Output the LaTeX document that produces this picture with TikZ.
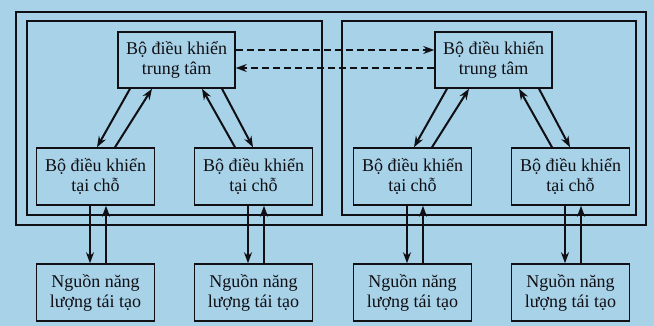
\documentclass[tikz,border=0pt]{standalone}
\usepackage{fontspec}
\setmainfont{Liberation Serif}
\usetikzlibrary{arrows.meta}
\definecolor{bgblue}{RGB}{168,210,232}
\definecolor{ink}{RGB}{15,15,20}
\tikzset{
  box/.style={draw=ink, line width=1.5pt, fill=bgblue, align=center, inner sep=0pt,
    font=\fontsize{18}{20}\selectfont, text=ink},
  cbox/.style={box, minimum width=117pt, minimum height=56pt},
  lbox/.style={box, minimum width=118pt, minimum height=57pt},
  frame/.style={draw=ink, line width=1.1pt},
  arr/.style={draw=ink, line width=2pt, -{Stealth[length=11pt,width=8pt]}},
  darr/.style={arr, line width=1.4pt, dash pattern=on 7pt off 4pt}
}
\begin{document}
\begin{tikzpicture}[x=1pt,y=-1pt]
\fill[bgblue] (0,0) rectangle (654,326);
\useasboundingbox (0,0) rectangle (654,326);
% frames
\draw[frame] (16,12) rectangle (646,225);
\draw[frame] (27,21) rectangle (322,215);
\draw[frame] (342,21) rectangle (636,215);
% left group
\node[cbox] (c1) at (176.5,60) {Bộ điều khiển\\trung tâm};
\node[lbox] (l1) at (95.5,176.5) {Bộ điều khiển\\tại chỗ};
\node[lbox] (l2) at (253.5,176.5) {Bộ điều khiển\\tại chỗ};
% right group
\node[cbox] (c2) at (493.5,60) {Bộ điều khiển\\trung tâm};
\node[lbox] (l3) at (412.5,176.5) {Bộ điều khiển\\tại chỗ};
\node[lbox] (l4) at (570.5,176.5) {Bộ điều khiển\\tại chỗ};
% sources
\node[lbox] (s1) at (95.5,292.5) {Nguồn năng\\lượng tái tạo};
\node[lbox] (s2) at (253.5,292.5) {Nguồn năng\\lượng tái tạo};
\node[lbox] (s3) at (412.5,292.5) {Nguồn năng\\lượng tái tạo};
\node[lbox] (s4) at (570.5,292.5) {Nguồn năng\\lượng tái tạo};
% dashed links between central controllers
\draw[darr] ([yshift=10pt]c1.east) -- ([yshift=10pt]c2.west);
\draw[darr] ([yshift=-8pt]c2.west) -- ([yshift=-8pt]c1.east);
% central <-> local
\foreach \c/\a/\b in {c1/l1/l2, c2/l3/l4}{
  \draw[arr] ([xshift=-46.5pt]\c.south) -- ([xshift=1.5pt]\a.north);
  \draw[arr] ([xshift=19.5pt]\a.north) -- ([xshift=-24.5pt]\c.south);
  \draw[arr] ([xshift=-18.5pt]\b.north) -- ([xshift=25.5pt]\c.south);
  \draw[arr] ([xshift=45.5pt]\c.south) -- ([xshift=-0.5pt]\b.north);
}
% local <-> sources
\foreach \l/\s in {l1/s1, l2/s2, l3/s3, l4/s4}{
  \draw[arr] ([xshift=-5.5pt]\l.south) -- ([xshift=-5.5pt]\s.north);
  \draw[arr] ([xshift=10.5pt]\s.north) -- ([xshift=10.5pt]\l.south);
}
\end{tikzpicture}
\end{document}
